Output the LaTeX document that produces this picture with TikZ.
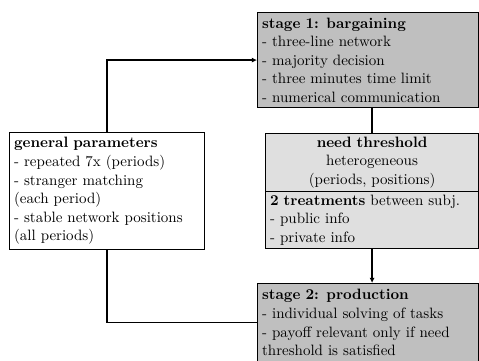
\documentclass[tikz,border=0pt]{standalone}
\usetikzlibrary{arrows.meta}
\begin{document}
\begin{tikzpicture}[x=0.6667pt,y=-0.6667pt,
  box/.style={draw=black,line width=0.8pt,rectangle,anchor=north west,inner xsep=3pt,inner ysep=1pt,
    font=\fontsize{10}{12.4}\selectfont,align=left},
  conn/.style={line width=0.8pt},
  arr/.style={conn,-{Latex[length=3.5pt,width=3.5pt]}}]
\useasboundingbox (0,0) rectangle (479,360);
\node[box,fill=gray!50,minimum width=147.3pt,text width=141.3pt,minimum height=63.3pt] (s1) at (257,12)
 {\textbf{stage 1: bargaining}\\- three-line network\\- majority decision\\- three minutes time limit\\- numerical communication};
\node[box,fill=gray!25,minimum width=142pt,text width=136pt,minimum height=38.7pt,align=center] (nt) at (265,133)
 {\textbf{need threshold}\\heterogeneous\\(periods, positions)};
\node[box,fill=gray!25,minimum width=142pt,text width=136pt,minimum height=38pt] (nb) at (265,191)
 {\textbf{2 treatments} between subj.\\- public info\\- private info};
\node[box,fill=white,minimum width=130pt,text width=124pt,minimum height=78pt] (gp) at (9,132)
 {\textbf{general parameters}\\- repeated 7x (periods)\\- stranger matching\\(each period)\\- stable network positions\\(all periods)};
\node[box,fill=gray!50,minimum width=147.3pt,text width=141.3pt,minimum height=52pt] (s2) at (257,283)
 {\textbf{stage 2: production}\\- individual solving of tasks\\- payoff relevant only if need\\threshold is satisfied};
\draw[arr] (gp.north) |- (s1.west);
\draw[conn] (gp.south) |- (s2.west);
\draw[conn] (s1.south -| nt.north) -- (nt.north);
\draw[arr] (nb.south) -- (nb.south |- s2.north);
\end{tikzpicture}
\end{document}
